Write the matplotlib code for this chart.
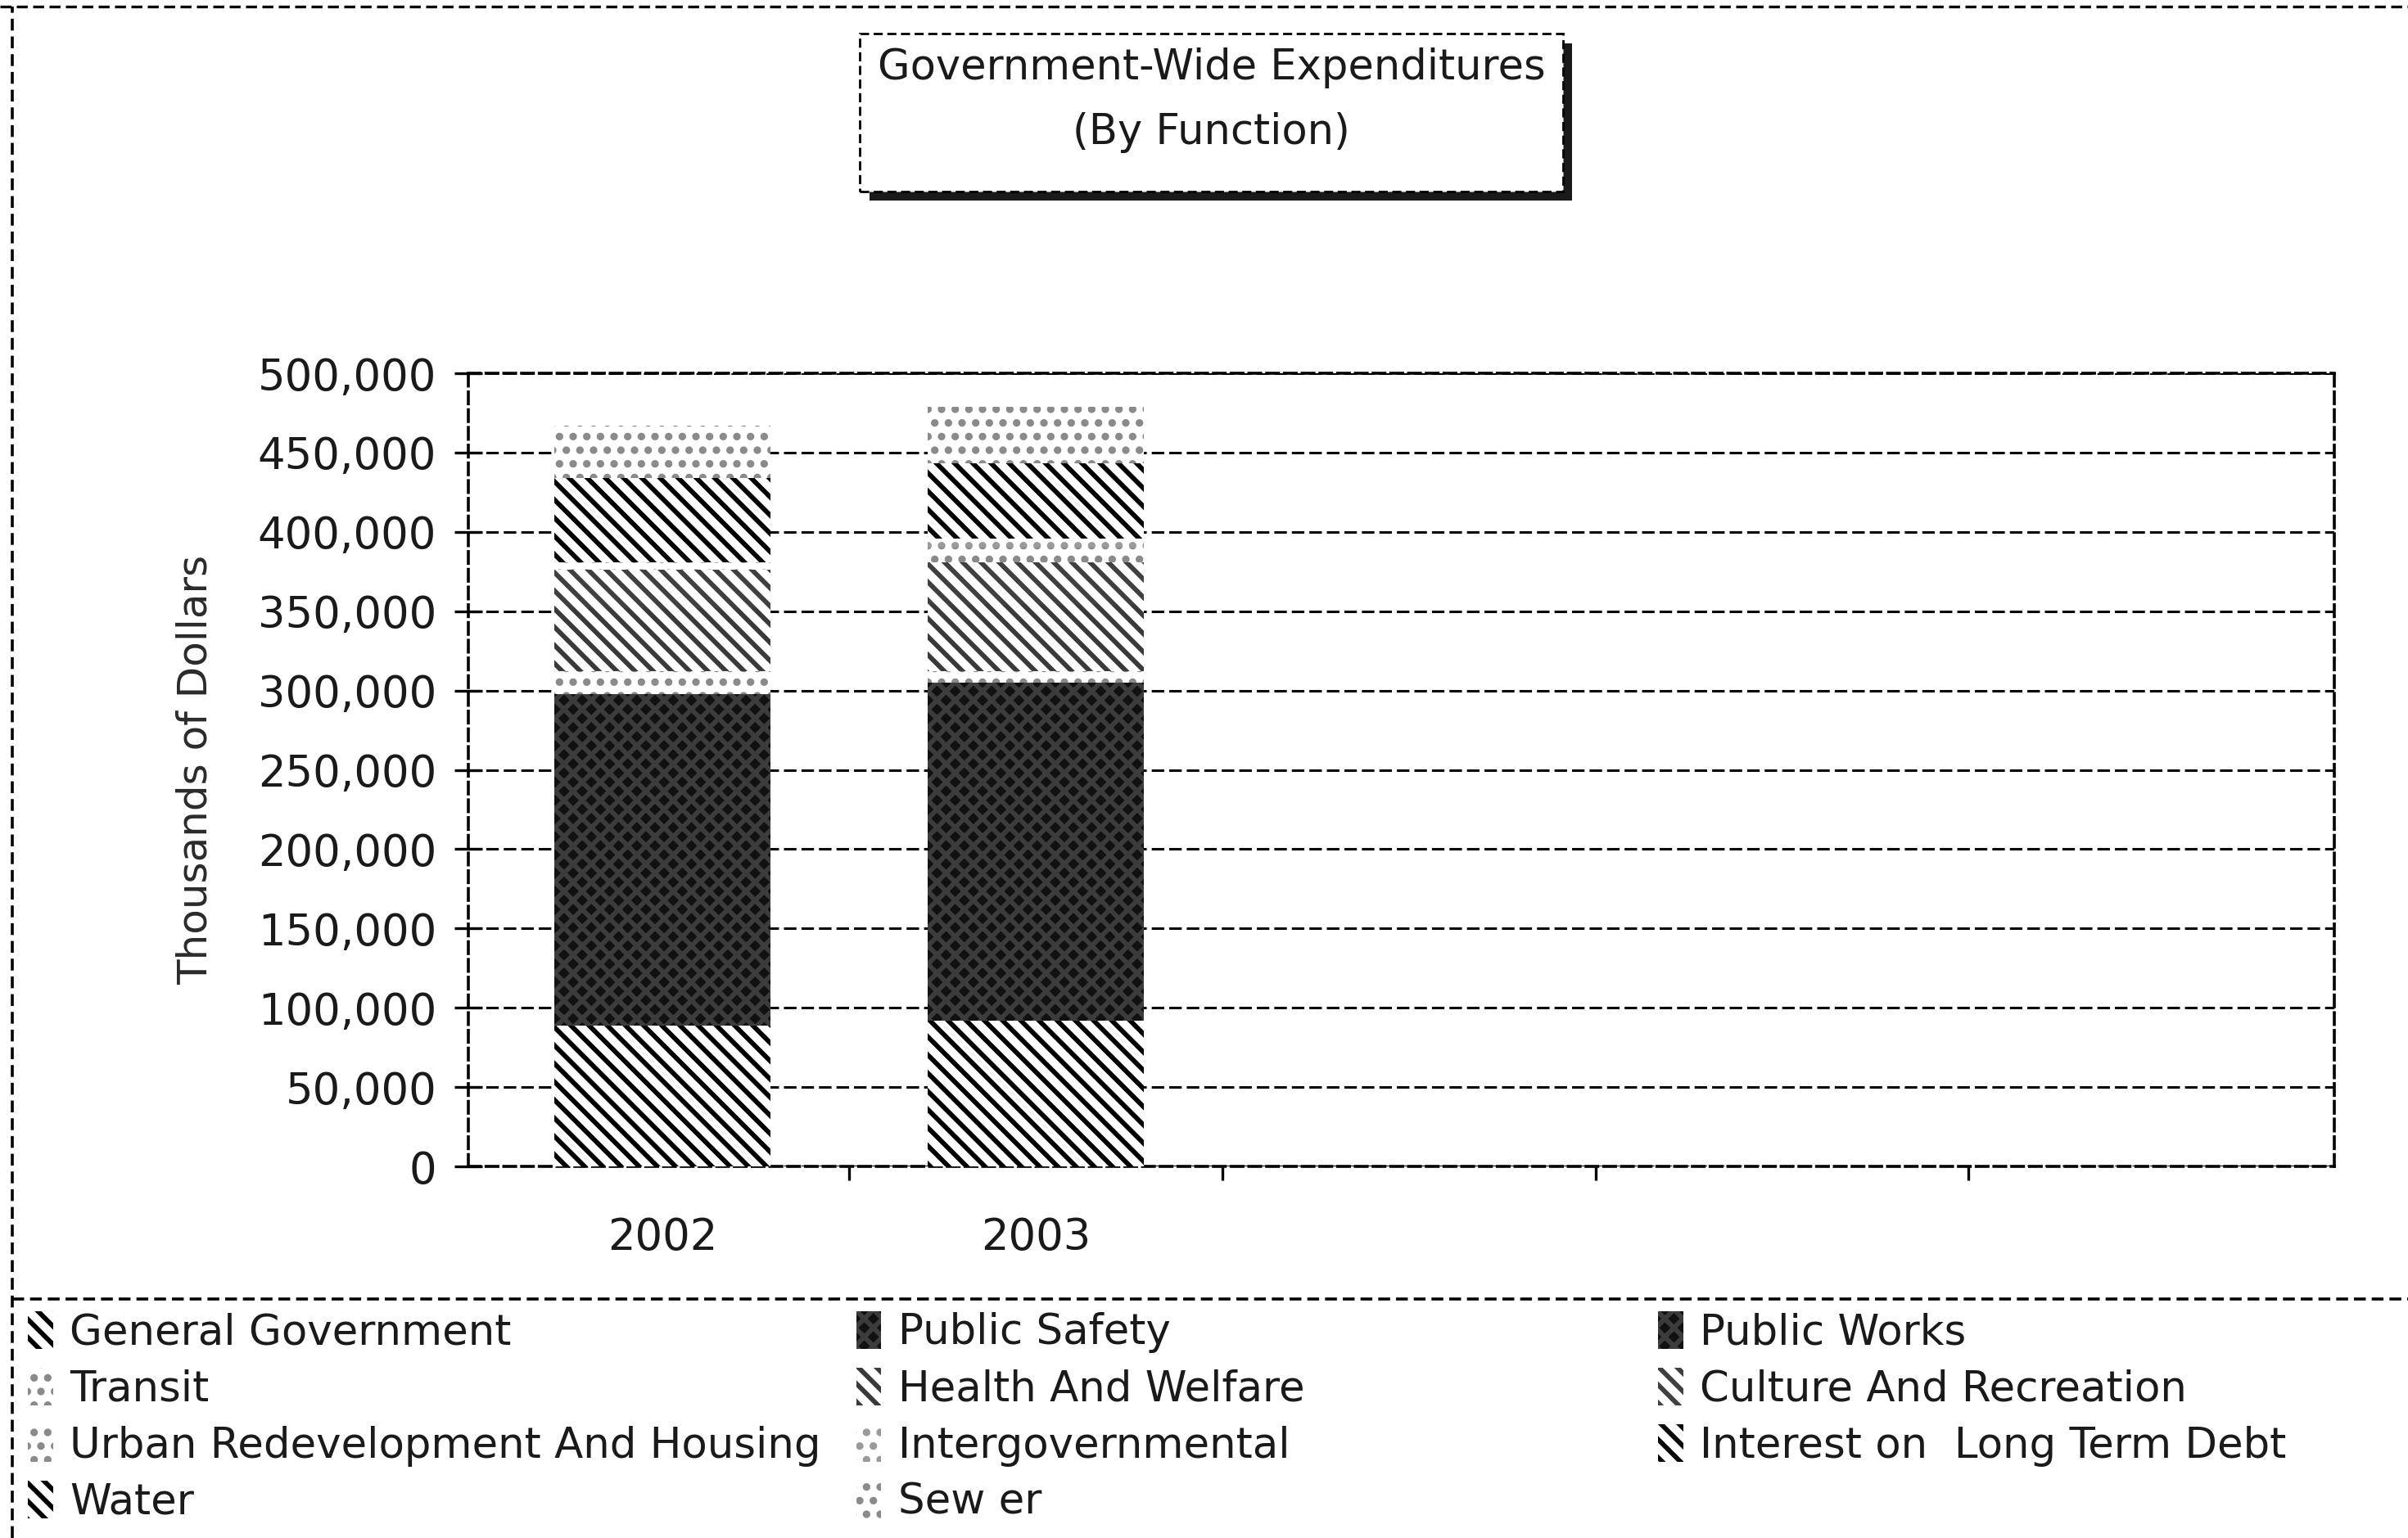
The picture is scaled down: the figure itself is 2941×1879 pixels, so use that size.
import matplotlib
matplotlib.use("Agg")
import matplotlib.pyplot as plt
import numpy as np
from matplotlib.patches import Rectangle
from matplotlib.lines import Line2D
from matplotlib.ticker import FuncFormatter, FixedLocator

# Expenditures by function, thousands of dollars
years = ["2002", "2003"]
general_government = [89000, 92000]
public_safety = [140000, 145000]
public_works = [69000, 68000]
transit = [14000, 7000]
health_and_welfare = [40000, 42000]
culture_and_recreation = [24000, 27000]
urban_redevelopment = [3000, 9000]
intergovernmental = [2000, 6000]
interest_long_term_debt = [8000, 8000]
water = [45000, 39000]
sewer = [33000, 36000]

functions = [
    "General Government", "Public Safety", "Public Works",
    "Transit", "Health And Welfare", "Culture And Recreation",
    "Urban Redevelopment And Housing", "Intergovernmental",
    "Interest on  Long Term Debt", "Water", "Sew er",
]
series = [
    general_government, public_safety, public_works,
    transit, health_and_welfare, culture_and_recreation,
    urban_redevelopment, intergovernmental,
    interest_long_term_debt, water, sewer,
]

# grey-scale fills: (face, hatch colour, hatch)
styles = [
    ("#ffffff", "#000000", "\\\\\\"),
    ("#111111", "#3c3c3c", "xxx"),
    ("#111111", "#3c3c3c", "xxx"),
    ("#ffffff", "#8a8a8a", ".."),
    ("#ffffff", "#3a3a3a", "\\\\\\"),
    ("#ffffff", "#404040", "\\\\\\"),
    ("#ffffff", "#8a8a8a", ".."),
    ("#ffffff", "#9a9a9a", ".."),
    ("#ffffff", "#080808", "\\\\\\"),
    ("#ffffff", "#000000", "\\\\\\"),
    ("#ffffff", "#8a8a8a", ".."),
]

plt.rcParams["font.family"] = ["DejaVu Sans"]
plt.rcParams["hatch.linewidth"] = 2.1

W, H, DPI = 2941, 1879, 200
fig = plt.figure(figsize=(W / DPI, H / DPI), dpi=DPI)
fig.patch.set_facecolor("white")

ax = fig.add_axes([0.1945, 0.2416, 0.7749, 0.5157])
x = np.arange(len(years))
bottom = np.zeros(len(years))
handles = []
for name, vals, (face, hc, hatch) in zip(functions, series, styles):
    vals = np.asarray(vals, dtype=float)
    bars = ax.bar(x, vals, width=0.58, bottom=bottom, color=face,
                  edgecolor=hc, hatch=hatch, linewidth=0, label=name, zorder=3)
    handles.append(bars)
    bottom += vals

ax.set_xlim(-0.52, 4.48)
ax.set_ylim(0, 500000)
ax.yaxis.set_major_locator(FixedLocator(np.arange(0, 500001, 50000)))
ax.yaxis.set_major_formatter(FuncFormatter(lambda v, p: f"{v:,.0f}"))
ax.set_xticks(x)
ax.set_xticklabels(years)
ax.xaxis.set_minor_locator(FixedLocator([0.5, 1.5, 2.5, 3.5]))
ax.tick_params(axis="x", which="major", length=0, pad=22, labelsize=19,
               labelcolor="#1a1a1a")
ax.tick_params(axis="x", which="minor", length=6, width=1.2, direction="out")
ax.tick_params(axis="y", direction="inout", length=12, width=1.2, pad=8,
               labelsize=19, labelcolor="#1a1a1a")

ax.set_axisbelow(True)
ax.yaxis.grid(True, color="black", linestyle=(0, (5, 2)), linewidth=1.1)
for s in ax.spines.values():
    s.set_linestyle((0, (4, 2)))
    s.set_linewidth(1.3)
    s.set_color("black")

ax.set_ylabel("Thousands of Dollars", fontsize=18, color="#2a2a2a")
ax.yaxis.set_label_coords(-0.1356, 0.5)

# title box with drop shadow
bx0, bx1, by0, by1 = 0.357, 0.649, 0.8755, 0.978
sh_dx, sh_dy = 0.004, 0.006
fig.patches.append(Rectangle((bx0 + sh_dx, by0 - sh_dy), bx1 - bx0, by1 - by0,
                             transform=fig.transFigure, facecolor="#1a1a1a",
                             edgecolor="none", zorder=1))
fig.patches.append(Rectangle((bx0, by0), bx1 - bx0, by1 - by0,
                             transform=fig.transFigure, facecolor="white",
                             edgecolor="black", linewidth=1.0,
                             linestyle=(0, (4, 2)), zorder=2))
fig.text(0.503, 0.956, "Government-Wide Expenditures", ha="center",
         va="center", fontsize=18.4, color="#1a1a1a", zorder=3)
fig.text(0.503, 0.914, "(By Function)", ha="center", va="center",
         fontsize=18.4, color="#1a1a1a", zorder=3)

# page frame and legend frame
fig.add_artist(Line2D([0.005, 0.005], [0.0, 0.996], color="black",
                      linewidth=1.3, linestyle=(0, (4, 2))))
fig.add_artist(Line2D([0.0, 1.0], [0.996, 0.996], color="black",
                      linewidth=1.2, linestyle=(0, (4, 2))))
fig.add_artist(Line2D([0.005, 1.0], [0.1554, 0.1554], color="black",
                      linewidth=1.3, linestyle=(0, (4, 2))))

# legend, three columns read row-wise
col_x = [0.008, 0.352, 0.685]
for c in range(3):
    idx = list(range(c, len(functions), 3))
    leg = fig.legend([handles[i] for i in idx], [functions[i] for i in idx],
                     loc="upper left", bbox_to_anchor=(col_x[c], 0.153),
                     frameon=False, fontsize=18.5, handlelength=0.6,
                     handleheight=1.0, handletextpad=0.4, labelspacing=0.34,
                     borderaxespad=0.0, borderpad=0.2)
    for t in leg.get_texts():
        t.set_color("#1a1a1a")

fig.savefig("out.png", dpi=DPI, facecolor="white")
